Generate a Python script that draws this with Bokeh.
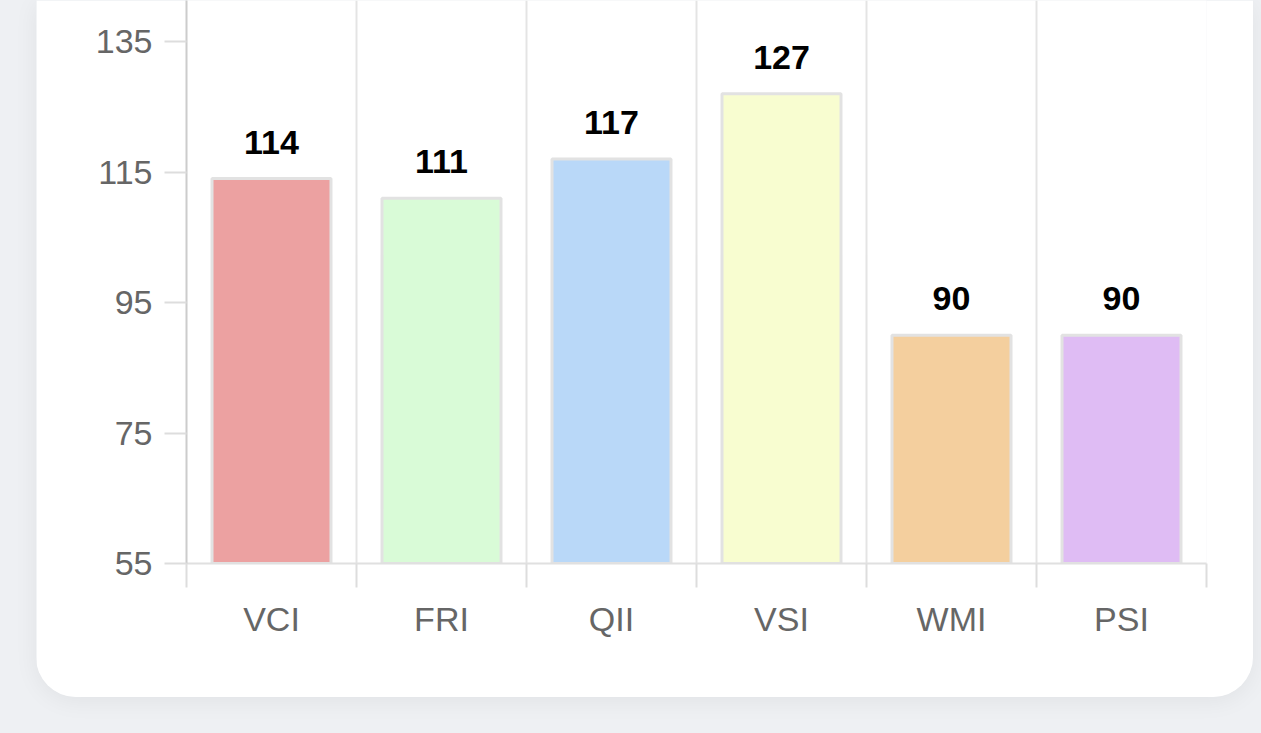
from bokeh.plotting import figure
from bokeh.models import FixedTicker, Range1d, ColumnDataSource, Column
from bokeh.core.properties import value
from bokeh.embed import file_html
from bokeh.resources import INLINE

categories = ["VCI", "FRI", "QII", "VSI", "WMI", "PSI"]
scores = [114, 111, 117, 127, 90, 90]
colors = ["#eca1a1", "#d9fbd7", "#b9d8f8", "#f8fdd0", "#f4cf9e", "#dfbcf4"]
y_ticks = [55, 75, 95, 115, 135]

xs = [i + 0.5 for i in range(len(categories))]
src = ColumnDataSource(dict(x=xs, top=scores, color=colors,
                            label=[str(v) for v in scores]))

p = figure(width=1217, height=697, output_backend="svg", toolbar_location=None,
           x_range=Range1d(0, len(categories)), y_range=Range1d(55, 141.3),
           min_border_left=150, min_border_right=47, min_border_top=0,
           min_border_bottom=134)
p.background_fill_color = "white"
p.border_fill_color = "white"
p.outline_line_color = None
p.styles = {"border-radius": "0 0 40px 40px", "overflow": "hidden",
            "box-shadow": "0 4px 24px rgba(0,0,0,0.06)"}
p.margin = (0, 8, 36, 36)

p.vbar(x="x", top="top", bottom=55, width=0.7, fill_color="color",
       line_color="#e2e2e2", line_width=3, source=src)
p.text(x="x", y="top", text="label", source=src, text_align="center",
       text_baseline="bottom", y_offset=-25, text_font=value("Liberation Sans"),
       text_font_size="34px", text_font_style="bold", text_color="#000000")

# grid
p.ygrid.grid_line_color = None
p.xgrid.ticker = FixedTicker(ticks=list(range(len(categories) + 1)))
p.xgrid.grid_line_color = "#e4e4e4"
p.xgrid.grid_line_width = 2

# x axis
xa = p.xaxis[0]
xa.ticker = FixedTicker(ticks=xs, minor_ticks=list(range(len(categories) + 1)))
xa.major_label_overrides = {x: c for x, c in zip(xs, categories)}
xa.major_tick_line_color = None
xa.major_tick_out = 0
xa.minor_tick_out = 24
xa.minor_tick_in = 0
xa.minor_tick_line_color = "#dddddd"
xa.minor_tick_line_width = 2
xa.axis_line_color = "#e0e0e0"
xa.axis_line_width = 2
xa.major_label_standoff = 12
xa.major_label_text_font = "Liberation Sans"
xa.major_label_text_font_size = "34px"
xa.major_label_text_color = "#666666"

# y axis
ya = p.yaxis[0]
ya.ticker = FixedTicker(ticks=y_ticks)
ya.minor_tick_line_color = None
ya.major_tick_out = 22
ya.major_tick_in = 0
ya.major_tick_line_color = "#dddddd"
ya.major_tick_line_width = 2
ya.axis_line_color = "#cccccc"
ya.axis_line_width = 2
ya.major_label_standoff = 12
ya.major_label_text_font = "Liberation Sans"
ya.major_label_text_font_size = "34px"
ya.major_label_text_color = "#666666"

layout = Column(children=[p], width=1261, height=733,
                styles={"background-color": "#eef0f3"})

open("out.html", "w").write(file_html(layout, INLINE))
